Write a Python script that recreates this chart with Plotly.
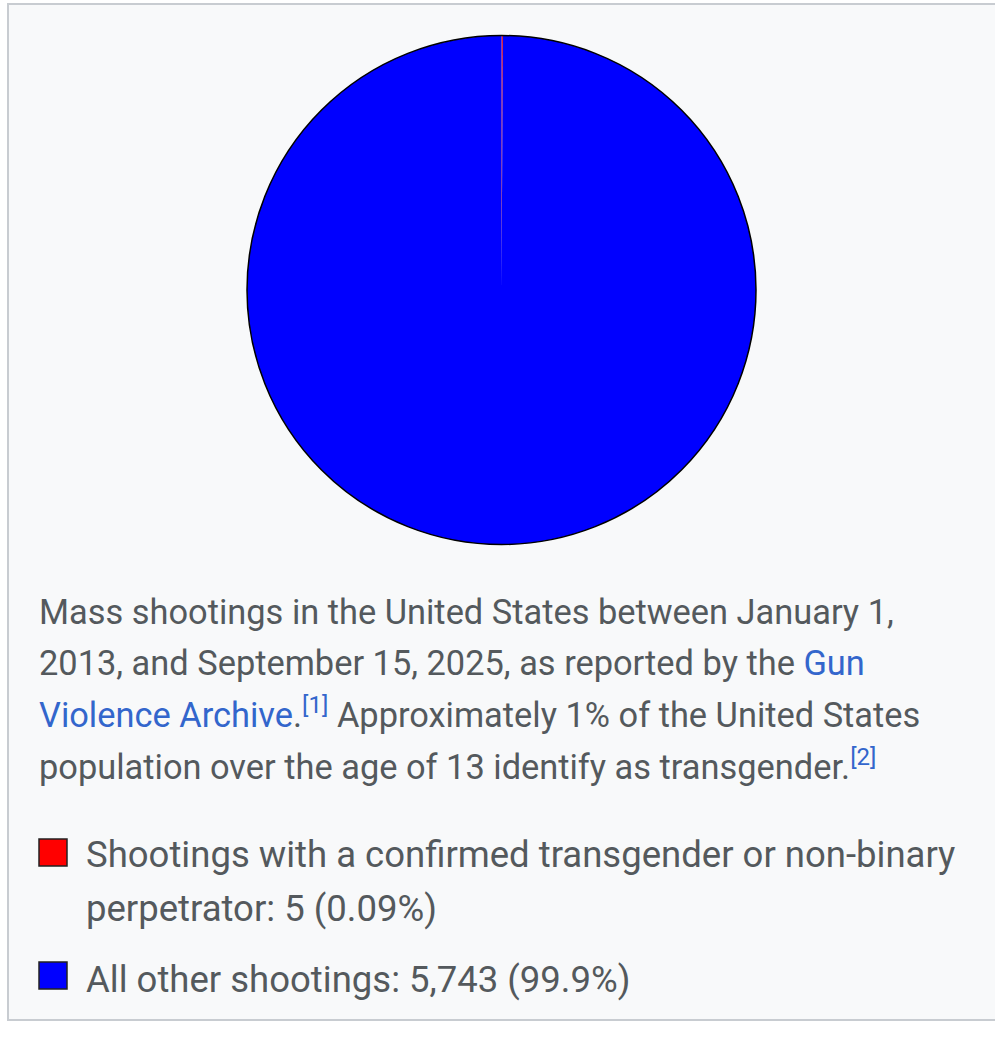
import plotly.graph_objects as go

# ---- data ----
labels = ["Shootings with a confirmed transgender or non-binary perpetrator",
          "All other shootings"]
values = [5, 5743]
value_text = ["5", "5,743"]
percent_text = ["0.09%", "99.9%"]
colors = ["#ff0000", "#0000ff"]

caption_lines = [
    "Mass shootings in the United States between January 1,",
    "2013, and September 15, 2025, as reported by the <span style='color:#3366cc'>Gun</span>",
    "<span style='color:#3366cc'>Violence Archive</span>.<span style='color:#3366cc'><sup>[1]</sup></span> Approximately 1% of the United States",
    "population over the age of 13 identify as transgender.<span style='color:#3366cc'><sup>[2]</sup></span>",
]

W, H = 995, 1041
FONT = "Roboto"
TXT = "#54595d"
FS_CAP = 34.4
FS_LEG = 36.5


def px(x):
    return x / W


def py(y):
    return 1 - y / H


fig = go.Figure()

dom = dict(x=[px(247), px(756)], y=[py(545), py(35)])
fig.add_trace(go.Pie(
    labels=labels, values=values, sort=False, direction="clockwise", rotation=0,
    marker=dict(colors=colors, line=dict(width=0)),
    textinfo="none", hoverinfo="label+value+percent", domain=dom, showlegend=False,
))
# outline of the whole pie
fig.add_trace(go.Pie(
    labels=["total"], values=[sum(values)], sort=False,
    marker=dict(colors=["rgba(0,0,0,0)"], line=dict(color="#000000", width=1.5)),
    textinfo="none", hoverinfo="skip", domain=dom, showlegend=False,
))

shapes = [dict(type="rect", xref="paper", yref="paper",
               x0=px(8), x1=px(1010), y0=py(1020), y1=py(4),
               fillcolor="#f8f9fa", line=dict(color="#c8ccd1", width=2), layer="below")]

annotations = []


def add_text(x, baseline, text, size):
    annotations.append(dict(
        xref="paper", yref="paper", x=px(x), y=py(baseline + 0.26 * size),
        xanchor="left", yanchor="bottom", text=text, showarrow=False,
        borderpad=0, borderwidth=0, align="left",
        font=dict(family=FONT, size=size, color=TXT),
    ))


caption_baselines = [623, 674, 726, 778]
for t, b in zip(caption_lines, caption_baselines):
    add_text(39, b, t, FS_CAP)

legend_lines = [
    [f"Shootings with a confirmed transgender or non-binary",
     f"perpetrator: {value_text[0]} ({percent_text[0]})"],
    [f"All other shootings: {value_text[1]} ({percent_text[1]})"],
]
legend_baselines = [[867, 921], [992]]
square_tops = [839, 962]
for i in range(len(values)):
    shapes.append(dict(type="rect", xref="paper", yref="paper",
                       x0=px(39), x1=px(67), y0=py(square_tops[i] + 27), y1=py(square_tops[i]),
                       fillcolor=colors[i], line=dict(color="#222222", width=1.5)))
    for t, b in zip(legend_lines[i], legend_baselines[i]):
        add_text(86, b, t, FS_LEG)

fig.update_layout(
    width=W, height=H, margin=dict(l=0, r=0, t=0, b=0),
    paper_bgcolor="#ffffff", plot_bgcolor="#ffffff",
    shapes=shapes, annotations=annotations, showlegend=False,
)

fig.write_html("out.html")
